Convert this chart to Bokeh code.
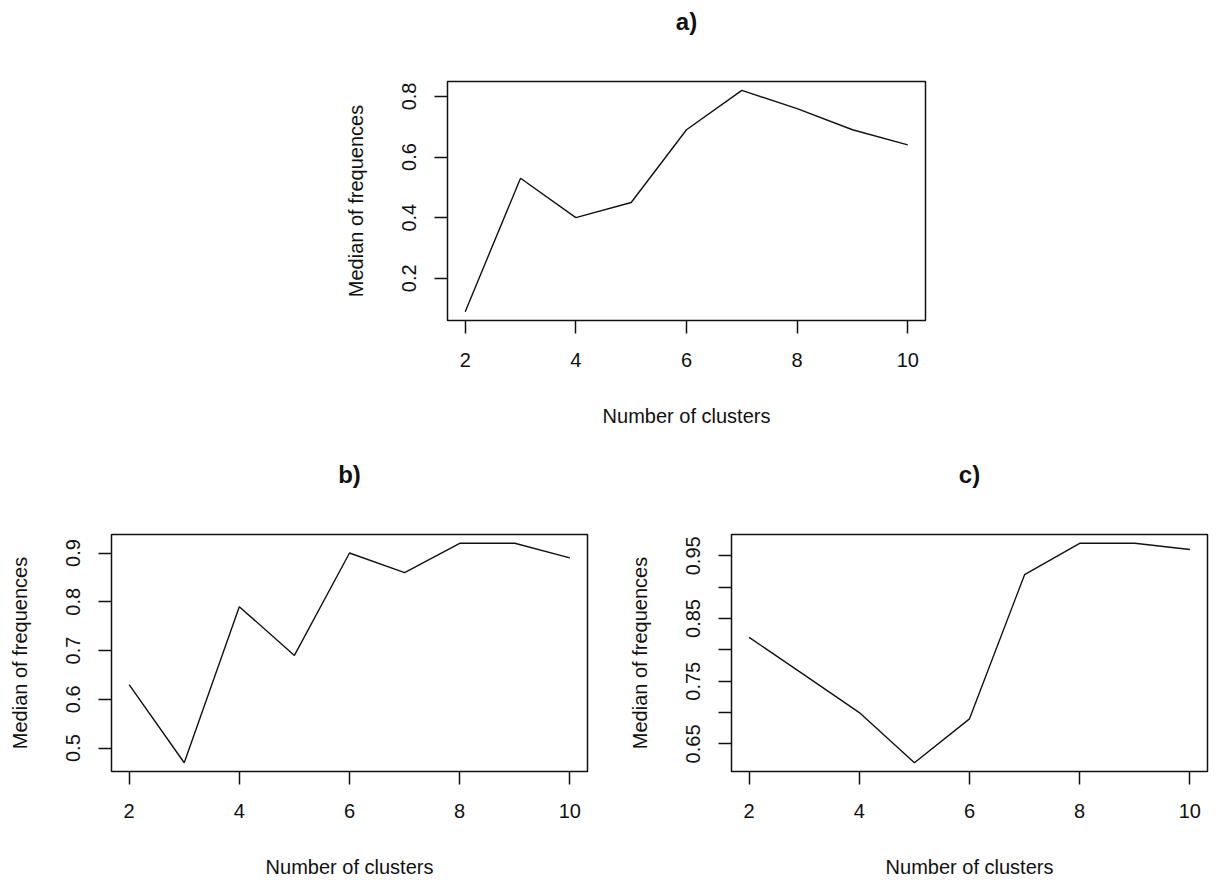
from bokeh.plotting import figure
from bokeh.layouts import column, row, Spacer
from bokeh.models import Range1d, FixedTicker, LinearAxis
from bokeh.embed import file_html
from bokeh.resources import INLINE

# Number of clusters tried and the median frequency obtained for each
clusters = [2, 3, 4, 5, 6, 7, 8, 9, 10]
median_a = [0.09, 0.53, 0.40, 0.45, 0.69, 0.82, 0.76, 0.69, 0.64]
median_b = [0.63, 0.47, 0.79, 0.69, 0.90, 0.86, 0.92, 0.92, 0.89]
median_c = [0.82, 0.76, 0.70, 0.62, 0.69, 0.92, 0.97, 0.97, 0.96]

# Axis ticks and labels
x_ticks = [2, 4, 6, 8, 10]
y_ticks_a = [0.2, 0.4, 0.6, 0.8]
y_ticks_b = [0.5, 0.6, 0.7, 0.8, 0.9]
y_ticks_c = [0.65, 0.75, 0.85, 0.95]
y_minor_c = [0.70, 0.80, 0.90]
panel_titles = ["a)", "b)", "c)"]
x_title = "Number of clusters"
y_title = "Median of frequences"

FONT = "Liberation Sans"
INK = "#111111"


def padded(vals, frac=0.04):
    lo, hi = min(vals), max(vals)
    d = (hi - lo) * frac
    return lo - d, hi + d


def panel(title, values, yticks, yminor, width, height, left, right, top, bottom):
    x0, x1 = padded(clusters)
    y0, y1 = padded(values)
    p = figure(width=width, height=height, output_backend="svg",
               toolbar_location=None, tools="",
               x_range=Range1d(x0, x1), y_range=Range1d(y0, y1),
               min_border_left=left, min_border_right=right,
               min_border_top=top, min_border_bottom=bottom)

    p.outline_line_color = INK
    p.outline_line_width = 1.5
    p.outline_line_alpha = 1.0
    p.grid.visible = False
    p.background_fill_color = "white"
    p.border_fill_color = "white"

    p.line(clusters, values, line_color=INK, line_width=1.4)

    xax = p.below[0]
    yax = p.left[0]
    for ax in (xax, yax):
        ax.axis_line_color = None
        ax.major_tick_in = 0
        ax.major_tick_out = 13
        ax.major_tick_line_color = INK
        ax.major_tick_line_width = 1.5
        ax.minor_tick_in = 0
        ax.minor_tick_out = 13
        ax.minor_tick_line_color = INK
        ax.minor_tick_line_width = 1.5
        ax.major_label_text_font = FONT
        ax.major_label_text_font_size = "20px"
        ax.major_label_text_color = INK
        ax.axis_label_text_font = FONT
        ax.axis_label_text_font_size = "20px"
        ax.axis_label_text_font_style = "normal"
        ax.axis_label_text_color = INK

    xax.ticker = FixedTicker(ticks=x_ticks, minor_ticks=[])
    xax.axis_label = x_title
    xax.major_label_standoff = 19
    xax.axis_label_standoff = 35

    yax.ticker = FixedTicker(ticks=yticks, minor_ticks=yminor)
    yax.axis_label = y_title
    yax.major_label_orientation = "vertical"
    yax.major_label_standoff = 18
    yax.axis_label_standoff = 33

    # panel letter above the frame, carried by a bare axis with no ticks
    head = LinearAxis(ticker=FixedTicker(ticks=[]), axis_line_color=None,
                      major_tick_out=0, major_tick_in=0,
                      axis_label=title, axis_label_standoff=47,
                      axis_label_text_font=FONT,
                      axis_label_text_font_size="24px",
                      axis_label_text_font_style="bold",
                      axis_label_text_color=INK)
    p.add_layout(head, "above")
    return p


fig_a = panel(panel_titles[0], median_a, y_ticks_a, [], 608, 450, 110, 20, 81, 130)
fig_b = panel(panel_titles[1], median_b, y_ticks_b, [], 611, 430, 111, 24, 84, 107)
fig_c = panel(panel_titles[2], median_c, y_ticks_c, y_minor_c, 611, 430, 120, 15, 83, 109)

layout = column(row(Spacer(width=337, height=450), fig_a), row(fig_b, fig_c),
                spacing=0)

open("out.html", "w").write(file_html(layout, INLINE))
